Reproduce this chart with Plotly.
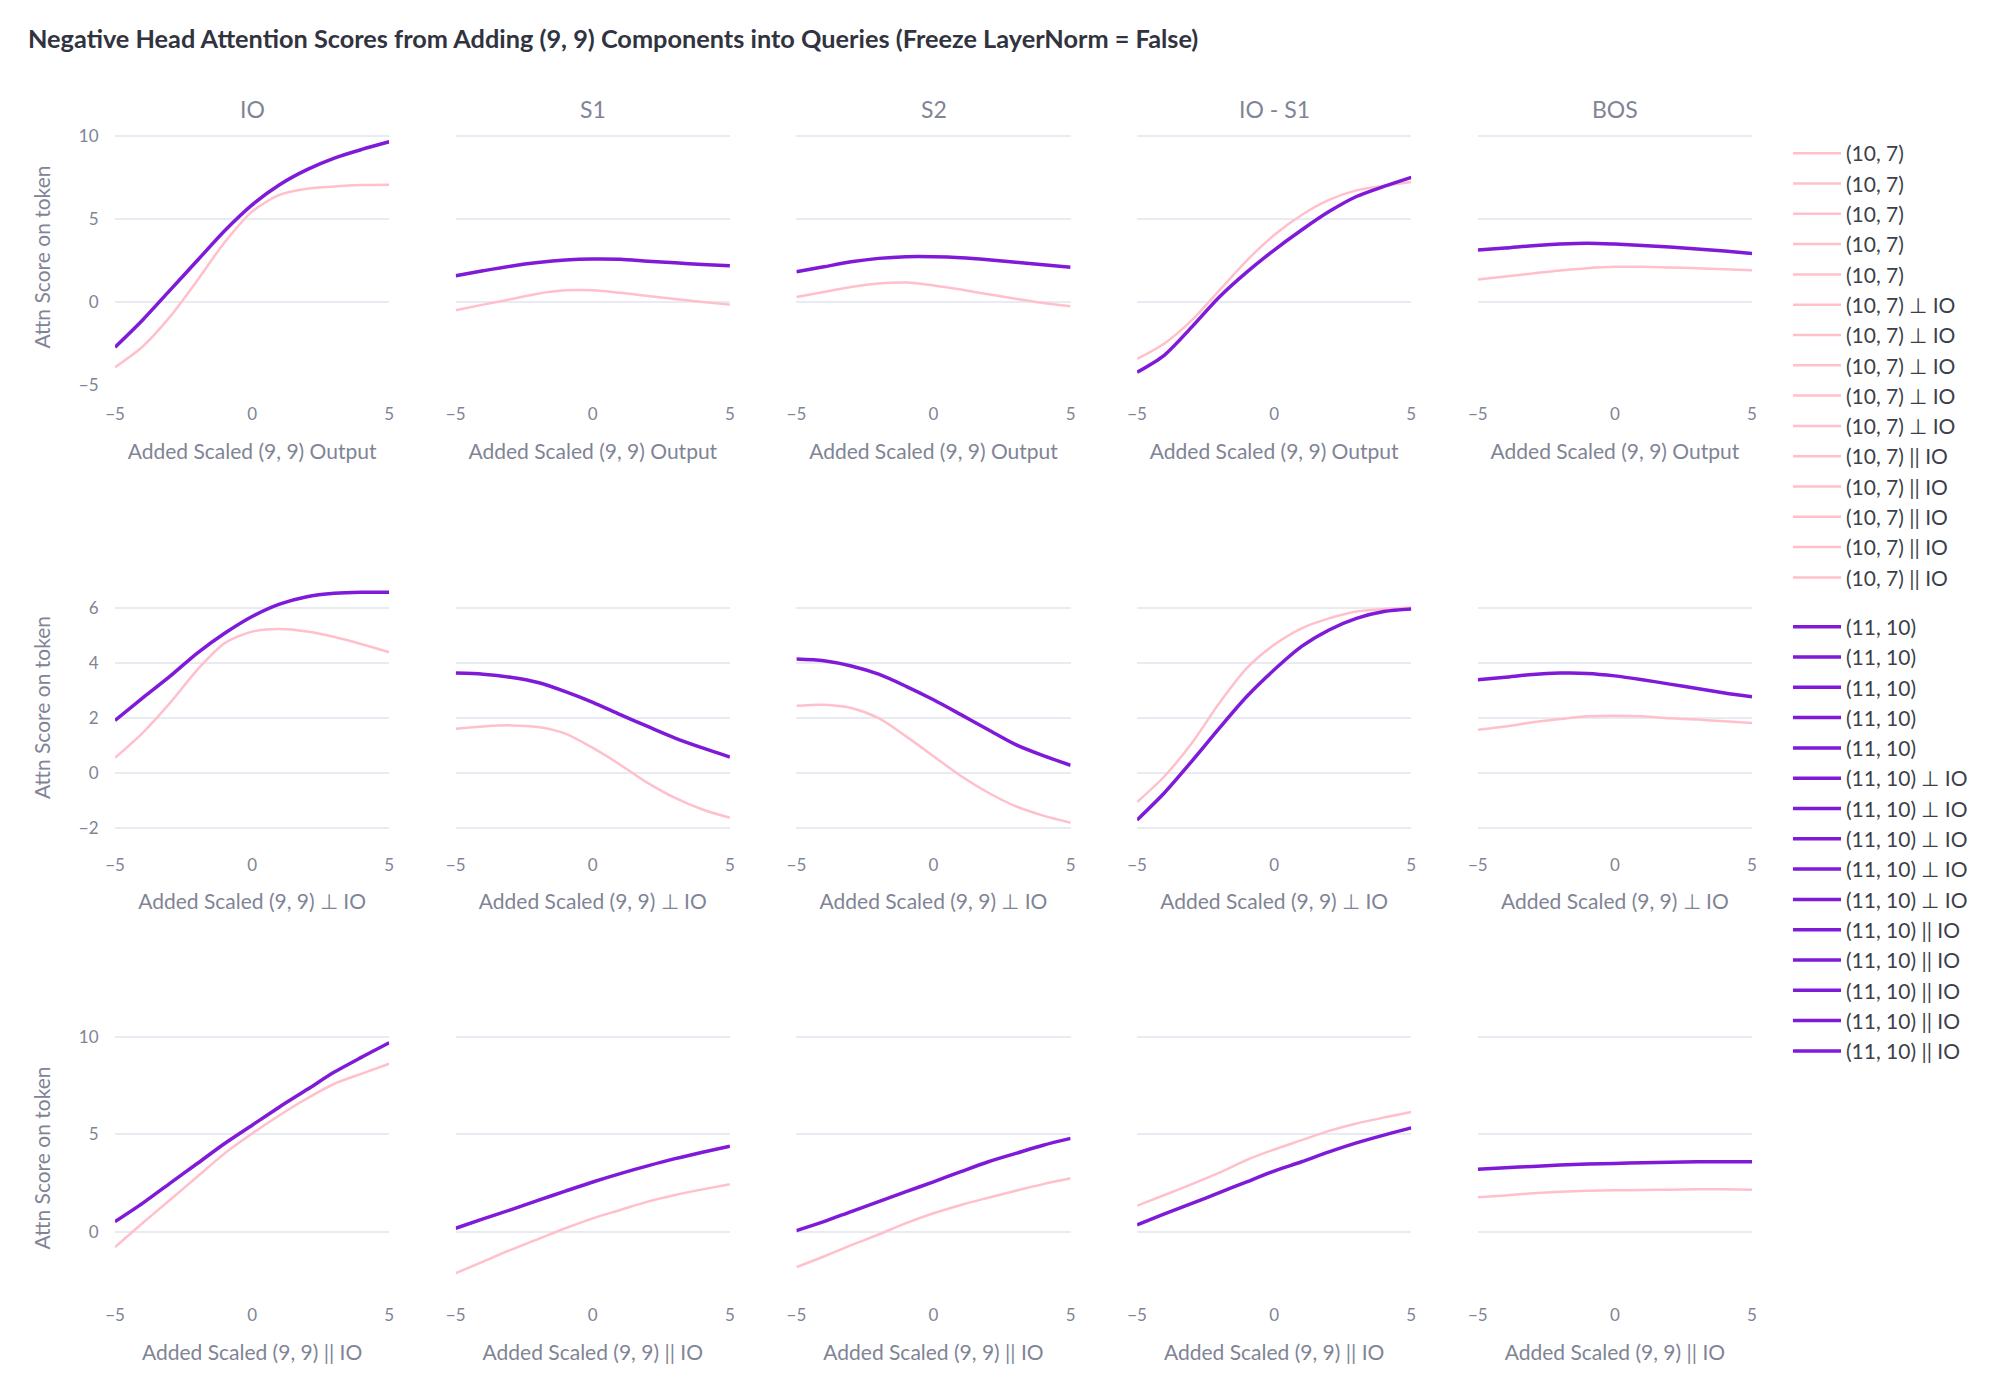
import plotly.graph_objects as go
from plotly.subplots import make_subplots

# added scale of the (9, 9) component
x_vals = [-5, -4, -3, -2, -1, 0, 1, 2, 3, 4, 5]

tokens = ["IO", "S1", "S2", "IO - S1", "BOS"]
components = ["Output", "⊥ IO", "|| IO"]
head_a = "(10, 7)"
head_b = "(11, 10)"

# row 1: full (9, 9) output, one list per token
pink_output = [
    [-3.94, -2.7, -0.9, 1.3, 3.6, 5.45, 6.46, 6.83, 6.97, 7.05, 7.07],
    [-0.5, -0.16, 0.16, 0.5, 0.7, 0.7, 0.55, 0.36, 0.18, 0.0, -0.16],
    [0.3, 0.6, 0.9, 1.11, 1.17, 1.0, 0.75, 0.46, 0.2, -0.06, -0.26],
    [-3.43, -2.5, -1.1, 0.7, 2.5, 4.04, 5.25, 6.16, 6.73, 7.0, 7.23],
    [1.35, 1.54, 1.72, 1.9, 2.04, 2.12, 2.12, 2.08, 2.04, 1.98, 1.92],
]
purple_output = [
    [-2.73, -1.1, 0.7, 2.5, 4.3, 5.86, 7.07, 7.98, 8.68, 9.2, 9.66],
    [1.58, 1.88, 2.16, 2.38, 2.53, 2.59, 2.57, 2.46, 2.36, 2.26, 2.18],
    [1.82, 2.12, 2.42, 2.63, 2.73, 2.73, 2.67, 2.55, 2.4, 2.24, 2.1],
    [-4.24, -3.2, -1.5, 0.3, 1.8, 3.13, 4.34, 5.45, 6.36, 6.97, 7.52],
    [3.13, 3.25, 3.39, 3.49, 3.54, 3.49, 3.41, 3.31, 3.19, 3.07, 2.93],
]

# row 2: component perpendicular to IO
pink_perp = [
    [0.56, 1.46, 2.55, 3.76, 4.73, 5.15, 5.24, 5.15, 4.95, 4.69, 4.4],
    [1.62, 1.7, 1.74, 1.68, 1.44, 0.92, 0.31, -0.35, -0.9, -1.32, -1.62],
    [2.45, 2.49, 2.37, 2.0, 1.34, 0.62, -0.1, -0.71, -1.2, -1.54, -1.8],
    [-1.05, -0.11, 1.1, 2.55, 3.82, 4.67, 5.27, 5.63, 5.88, 5.97, 6.03],
    [1.58, 1.7, 1.85, 1.97, 2.07, 2.09, 2.07, 2.0, 1.95, 1.89, 1.83],
]
purple_perp = [
    [1.92, 2.73, 3.52, 4.37, 5.09, 5.7, 6.15, 6.42, 6.54, 6.58, 6.58],
    [3.64, 3.6, 3.49, 3.3, 2.97, 2.58, 2.13, 1.7, 1.28, 0.92, 0.59],
    [4.15, 4.09, 3.9, 3.6, 3.16, 2.67, 2.13, 1.58, 1.04, 0.64, 0.29],
    [-1.7, -0.71, 0.44, 1.64, 2.79, 3.76, 4.61, 5.21, 5.63, 5.88, 5.97],
    [3.4, 3.49, 3.59, 3.64, 3.63, 3.54, 3.4, 3.24, 3.08, 2.92, 2.78],
]

# row 3: component parallel to IO
pink_par = [
    [-0.8, 0.43, 1.62, 2.82, 4.02, 5.04, 5.98, 6.84, 7.6, 8.12, 8.63],
    [-2.14, -1.54, -0.94, -0.39, 0.17, 0.68, 1.11, 1.54, 1.88, 2.17, 2.44],
    [-1.83, -1.28, -0.7, -0.15, 0.43, 0.94, 1.37, 1.74, 2.1, 2.44, 2.74],
    [1.33, 1.88, 2.44, 3.03, 3.68, 4.22, 4.7, 5.18, 5.56, 5.86, 6.15],
    [1.76, 1.86, 1.97, 2.05, 2.1, 2.12, 2.14, 2.15, 2.17, 2.17, 2.15],
]
purple_par = [
    [0.51, 1.45, 2.48, 3.5, 4.53, 5.47, 6.41, 7.3, 8.2, 8.97, 9.71],
    [0.17, 0.65, 1.12, 1.6, 2.08, 2.55, 2.98, 3.38, 3.75, 4.08, 4.39],
    [0.05, 0.51, 1.03, 1.54, 2.05, 2.56, 3.08, 3.59, 4.02, 4.44, 4.79],
    [0.34, 0.91, 1.45, 2.0, 2.56, 3.11, 3.59, 4.1, 4.56, 4.96, 5.33],
    [3.2, 3.28, 3.35, 3.42, 3.47, 3.5, 3.54, 3.57, 3.59, 3.59, 3.59],
]

pink_rows = [pink_output, pink_perp, pink_par]
purple_rows = [purple_output, purple_perp, purple_par]
y_dticks = [5, 2, 5]

FONT = "Lato"
GREY = "#808495"
DARK = "#31333F"
GRID = "#e8ebf2"
PINK = "pink"
PURPLE = "#7f1ad8"
CLEAR = "rgba(0,0,0,0)"

# page body adds an 8px offset, so the figure is 16px smaller than the window
W, H = 1978, 1376

fig = make_subplots(
    rows=3, cols=5,
    shared_yaxes=True,
    subplot_titles=tokens + [""] * 10,
    horizontal_spacing=0.0406,
    vertical_spacing=0.168,
)

for r in range(3):
    suffix = "" if r == 0 else " " + components[r]
    for c in range(5):
        fig.add_trace(go.Scatter(
            x=x_vals, y=pink_rows[r][c], mode="lines",
            line=dict(color=PINK, width=2.5, shape="spline", smoothing=0.8),
            name=head_a + suffix, legendgroup=head_a,
        ), row=r + 1, col=c + 1)
        fig.add_trace(go.Scatter(
            x=x_vals, y=purple_rows[r][c], mode="lines",
            line=dict(color=PURPLE, width=3.5, shape="spline", smoothing=0.8),
            name=head_b + suffix, legendgroup=head_b,
        ), row=r + 1, col=c + 1)
        fig.update_xaxes(
            title_text="Added Scaled (9, 9) " + components[r],
            row=r + 1, col=c + 1,
        )
    fig.update_yaxes(dtick=y_dticks[r], row=r + 1)
    fig.update_yaxes(title_text="Attn Score on token", row=r + 1, col=1)

fig.update_xaxes(
    range=[-5, 5], dtick=5, showgrid=False, zeroline=False,
    showline=False, ticks="outside", ticklen=14, tickcolor=CLEAR,
    tickfont=dict(size=17, color=GREY),
    title_font=dict(size=21, color=GREY),
    title_standoff=20,
)
fig.update_yaxes(
    showgrid=True, gridcolor=GRID, gridwidth=1.5, zeroline=False,
    showline=False, ticks="outside", ticklen=12, tickcolor=CLEAR,
    tickfont=dict(size=17, color=GREY),
    title_font=dict(size=21, color=GREY),
    title_standoff=22,
)
fig.update_annotations(font=dict(size=23, color=GREY, family=FONT), yshift=4)

fig.update_layout(
    width=W,
    height=H,
    autosize=False,
    plot_bgcolor="white",
    paper_bgcolor="white",
    font=dict(family=FONT, color=DARK),
    title=dict(
        text="<b>Negative Head Attention Scores from Adding (9, 9) Components into Queries (Freeze LayerNorm = False)</b>",
        x=20 / W, xref="container", xanchor="left",
        y=1 - 31 / H, yref="container", yanchor="middle",
        font=dict(size=25.3, color=DARK, family=FONT),
    ),
    legend=dict(
        x=1.022, y=0.9965, xanchor="left", yanchor="top",
        font=dict(size=21, color="#3d3f4a"),
        itemwidth=48, tracegroupgap=19,
    ),
    margin=dict(l=107, r=234, t=121, b=98),
)

fig.write_html("out.html")
